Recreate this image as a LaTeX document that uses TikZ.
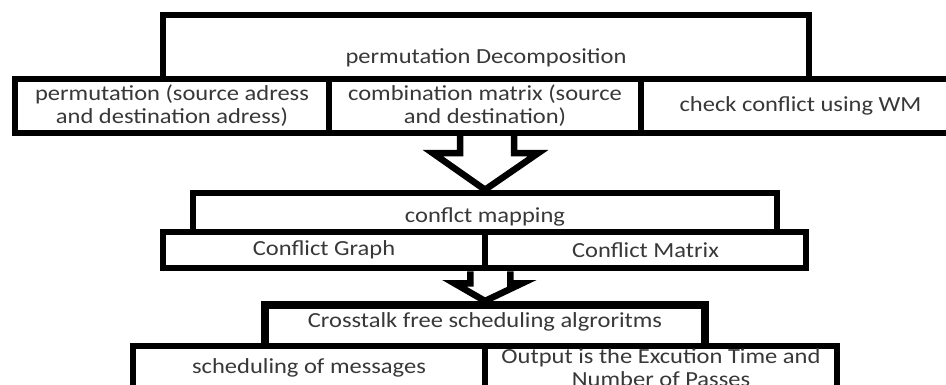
\documentclass[tikz,border=0pt]{standalone}
\usepackage{fontspec}
\setmainfont{Carlito}[FakeStretch=1.14]
\usepackage{tikz}
\usetikzlibrary{calc}

\begin{document}
\begin{tikzpicture}[x=1pt, y=-1pt,
  box/.style={draw=black, line width=6.5pt, fill=white, inner sep=0pt, align=center,
    text=black!78, font=\fontsize{21.5}{23}\selectfont},
  lbl/.style={text=black!78, font=\fontsize{21.5}{23}\selectfont, align=center, inner sep=0pt},
  blockarrow/.style={draw=black, line width=6.5pt, fill=white, line join=miter}]
\clip (0,0) rectangle (946,385);
\fill[white] (0,0) rectangle (946,385);

% Decomposition stage
\node[box, minimum width=646pt, minimum height=86pt] (decomp) at (486,58) {permutation Decomposition};
\node[box, minimum width=314pt, minimum height=54pt] (src) at (172,106) {permutation (source adress\\and destination adress)};
\node[box, minimum width=312pt, minimum height=54pt] (comb) at (485,106) {combination matrix (source\\and destination)};
\node[box, minimum width=319pt, minimum height=54pt] (chk) at (800.5,106) {check conflict using WM};

% Mapping stage
\node[box, minimum width=584pt, minimum height=48pt] (mapping) at (485,217) {conflct mapping};
\node[box, minimum width=322pt, minimum height=36pt] (cgraph) at (324,250) {Conflict Graph};
\node[box, minimum width=321pt, minimum height=36pt] (cmatrix) at (645.5,250) {Conflict Matrix};

% Scheduling stage
\node[box, line width=8pt, minimum width=440pt, minimum height=54pt] (xtalk) at (485,332) {};
\node[lbl] (xtalktxt) at (485,322) {Crosstalk free scheduling algroritms};
\node[box, minimum width=352pt, minimum height=44pt] (sched) at (309,368) {scheduling of messages};
\node[box, minimum width=352pt, minimum height=44pt] (output) at (661,368) {Output is the Excution Time and\\Number of Passes};

% Block arrows
\draw[blockarrow] ($(comb.south)+(-25,0)$) -- ++(0,17) -- ++(-27,0) -- (mapping.north)
  -- ($(comb.south)+(53,17)$) -- ++(-24,0) -- ++(0,-17);
\draw[blockarrow] ($(cgraph.south east)+(-18,0)$) -- ++(0,12) -- ++(-16,0) -- (xtalk.north)
  -- ($(cgraph.south east)+(34,12)$) -- ++(-12,0) -- ++(0,-12);
\end{tikzpicture}
\end{document}
